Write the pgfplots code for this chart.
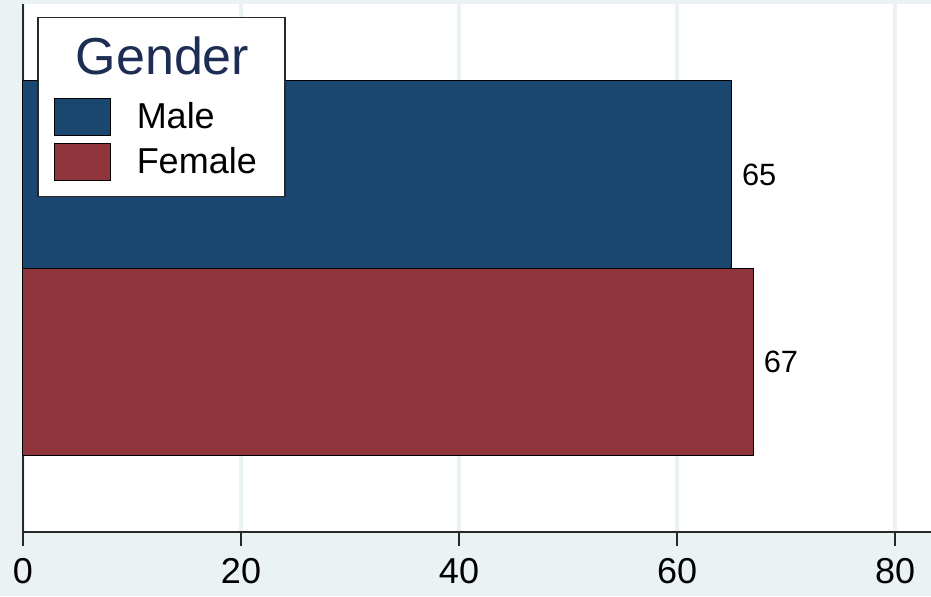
\documentclass[border=0pt]{standalone}
\usepackage{fontspec}
\setmainfont{Liberation Sans}
\usepackage{pgfplots}
\pgfplotsset{compat=1.18}

\definecolor{bgcol}{RGB}{234,242,243}
\definecolor{stnavy}{RGB}{26,71,111}
\definecolor{stmaroon}{RGB}{144,53,59}
\definecolor{titlenavy}{RGB}{30,45,83}
\definecolor{axgray}{RGB}{40,40,40}

\pgfplotsset{
  patchlegend/.style={
    legend image code/.code={\draw[##1, line width=0.5pt] (0pt,-9.25pt) rectangle (28pt,9.25pt);}
  },
  barstyle/.style={
    xbar, bar width=1, bar shift=0pt, draw=black, line width=0.5pt,
    point meta=x, nodes near coords,
    nodes near coords style={font=\fontsize{15.4}{18}\selectfont, anchor=west, inner sep=0pt, xshift=5pt, black},
    patchlegend
  }
}

\begin{document}
\begin{tikzpicture}
\fill[bgcol] (-11.5pt,-32pt) rectangle (454pt,266pt);
\begin{axis}[
  scale only axis,
  width=454pt, height=264pt,
  at={(0pt,0pt)}, anchor=south west,
  xmin=0, xmax=83.3, ymin=-0.907, ymax=1.909,
  axis x line*=bottom, axis y line*=left,
  axis line style={axgray, line width=0.75pt, -},
  ytick=\empty,
  xtick={0,20,40,60,80},
  tick align=outside,
  major tick length=7pt,
  x tick style={axgray, line width=0.75pt},
  xmajorgrids,
  grid style={bgcol, line width=1.8pt},
  axis background/.style={fill=white},
  ticklabel style={font=\fontsize{18}{21}\selectfont, yshift=-2.5pt},
  /pgf/number format/assume math mode=true,
  clip=false,
  legend cell align=left,
  legend style={
    at={(rel axis cs:0,1)}, anchor=north west, xshift=7pt, yshift=-6.5pt,
    draw=axgray, line width=0.75pt, fill=white,
    inner xsep=8pt, inner ysep=7.5pt,
    font=\fontsize{18}{21}\selectfont,
    row sep=3.5pt,
    /tikz/every odd column/.append style={column sep=11pt},
  },
]
\addlegendimage{empty legend}
\addlegendentry{\hspace*{-30.5pt}\raisebox{5pt}{\fontsize{26}{30}\selectfont\color{titlenavy}Gender}}

\addplot[barstyle, fill=stnavy] coordinates {(65,1)};
\addlegendentry{Male}

\addplot[barstyle, fill=stmaroon] coordinates {(67,0)};
\addlegendentry{Female\hspace*{4pt}}
\end{axis}
\pgfresetboundingbox
\path[use as bounding box] (-11.5pt,-32pt) rectangle (454pt,266pt);
\end{tikzpicture}
\end{document}
